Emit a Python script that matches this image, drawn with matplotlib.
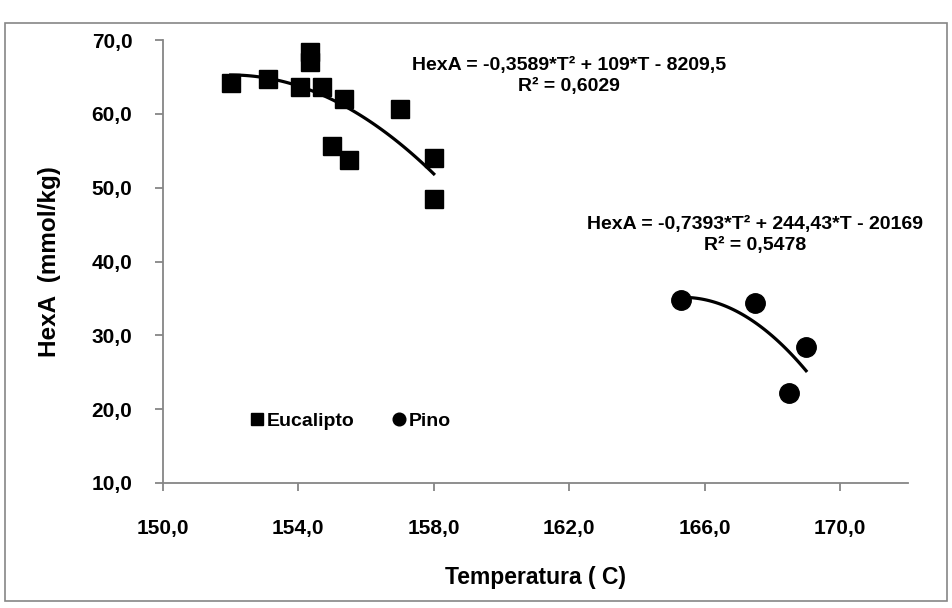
import numpy as np
import matplotlib
matplotlib.use('Agg')
import matplotlib.pyplot as plt
from matplotlib.patches import Rectangle

plt.rcParams['font.family'] = ['Liberation Sans', 'DejaVu Sans']
plt.rcParams['font.weight'] = 'bold'

# data
euc_t = [152.0, 153.1, 154.35, 154.35, 154.05, 154.7, 155.35, 155.0, 155.5, 157.0, 158.0, 158.0]
euc_hexa = [64.2, 64.7, 68.4, 67.0, 63.6, 63.6, 62.0, 55.7, 53.8, 60.7, 54.0, 48.5]
pino_t = [165.3, 167.5, 169.0, 168.5]
pino_hexa = [34.8, 34.4, 28.4, 22.2]

euc_eq = 'HexA = -0,3589*T² + 109*T - 8209,5\nR² = 0,6029'
pino_eq = 'HexA = -0,7393*T² + 244,43*T - 20169\nR² = 0,5478'

x_ticks = [150, 154, 158, 162, 166, 170]
y_ticks = [10, 20, 30, 40, 50, 60, 70]

grey = '#868686'

fig = plt.figure(figsize=(9.52, 6.08), dpi=100)
fig.patches.append(Rectangle((5 / 952, 1 - 601 / 608), 942 / 952, 578 / 608,
                             transform=fig.transFigure, fill=False,
                             edgecolor=grey, linewidth=1.2))
ax = fig.add_axes([0.1712, 0.2056, 0.7822, 0.7286])

# trendlines (2nd order polynomial, like the spreadsheet)
for tt, hh in ((euc_t, euc_hexa), (pino_t, pino_hexa)):
    c = np.polyfit(tt, hh, 2)
    xs = np.linspace(min(tt), max(tt), 100)
    ax.plot(xs, np.polyval(c, xs), color='black', lw=2.3, zorder=3)

ax.plot(euc_t, euc_hexa, ls='none', marker='s', ms=13.5, color='black',
        label='Eucalipto', zorder=2)
ax.plot(pino_t, pino_hexa, ls='none', marker='o', ms=14, color='black',
        label='Pino', zorder=2)

ax.set_xlim(150, 172)
ax.set_ylim(10, 70)
ax.set_xticks(x_ticks)
ax.set_yticks(y_ticks)
ax.set_xticklabels([('%.1f' % v).replace('.', ',') for v in x_ticks])
ax.set_yticklabels([('%.1f' % v).replace('.', ',') for v in y_ticks])

for s in ('top', 'right'):
    ax.spines[s].set_visible(False)
for s in ('left', 'bottom'):
    ax.spines[s].set_color(grey)
    ax.spines[s].set_linewidth(1.3)
ax.tick_params(axis='both', direction='out', length=6, width=1.3, color=grey,
               labelsize=15)
ax.tick_params(axis='x', pad=20)
ax.tick_params(axis='y', pad=16)
for lab in ax.get_xticklabels() + ax.get_yticklabels():
    lab.set_fontweight('bold')

ax.set_xlabel('Temperatura ( C)', fontsize=16.5, fontweight='bold', labelpad=20)
ax.set_ylabel('HexA  (mmol/kg)', fontsize=17.5, fontweight='bold', labelpad=22)

ax.text(0.545, 0.918, euc_eq, transform=ax.transAxes, ha='center', va='center',
        multialignment='center', fontsize=14, fontweight='bold', linespacing=1.3)
ax.text(0.795, 0.56, pino_eq, transform=ax.transAxes, ha='center', va='center',
        multialignment='center', fontsize=14, fontweight='bold', linespacing=1.3)

leg = ax.legend(loc='center left', bbox_to_anchor=(0.095, 0.14), ncol=2, frameon=False,
                markerscale=0.65, handlelength=0.6, handletextpad=0.2, columnspacing=2.0,
                prop={'weight': 'bold', 'size': 14})

fig.savefig('out.png', dpi=100)
